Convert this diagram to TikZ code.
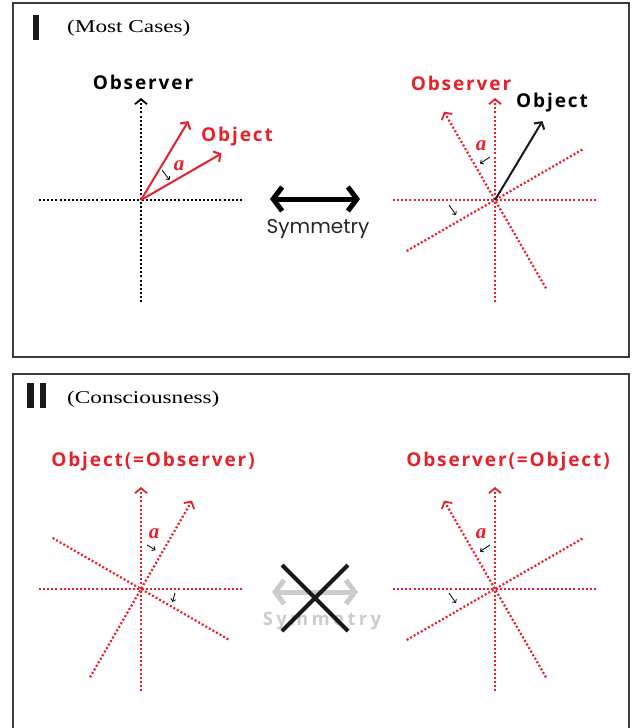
\documentclass[tikz,border=0pt]{standalone}
\usepackage{fontspec}
\setmainfont{Liberation Serif}
\newfontfamily\labelfont[LetterSpace=10]{Open Sans}
\newfontfamily\widelabelfont[LetterSpace=18]{Open Sans}
\newfontfamily\symfont{Poppins}
\usetikzlibrary{arrows.meta}
\definecolor{axisred}{RGB}{232,32,42}
\definecolor{framegray}{RGB}{60,60,60}
\definecolor{fadegray}{RGB}{204,204,204}

\begin{document}
\begin{tikzpicture}[x=1pt,y=1pt]
	\tikzstyle{frame}=[draw=framegray,line width=1.2pt]
	\tikzstyle{axis}=[line width=2.2pt,dash pattern=on 2pt off 2.1pt]
	\tikzstyle{axistip}=[-{Straight Barb[length=5pt,width=12pt,line width=1.8pt]}]
	\tikzstyle{vec}=[line width=2pt,-{Straight Barb[length=5pt,width=12pt]}]
	\tikzstyle{tick}=[line width=0.8pt,-{Straight Barb[length=2.5pt,width=5pt]}]
	\tikzstyle{sym}=[line width=5pt,{Straight Barb[length=9pt,width=24pt]}-{Straight Barb[length=9pt,width=24pt]}]
	\tikzstyle{big}=[font=\labelfont\bfseries\fontsize{19}{19}\selectfont,inner sep=0pt]
	\tikzstyle{angle}=[font=\bfseries\itshape\fontsize{21}{21}\selectfont,text=axisred,inner sep=0pt]
	\tikzstyle{head}=[font=\fontsize{18}{18}\selectfont,anchor=west,inner sep=0pt]

	\useasboundingbox (0,0) rectangle (636,-728);

	% panel frames and headings
	\draw[frame] (13,-3) rectangle (629,-357);
	\draw[frame] (13,-728) -- (13,-374) -- (629,-374) -- (629,-728);
	\fill[black!90] (33,-15) rectangle (38.5,-40);
	\fill[black!90] (27,-383) rectangle (33.5,-408);
	\fill[black!90] (39.5,-383) rectangle (46,-408);
	\node[head] (caseI) at (67,-28) {\scalebox{1.29}[1]{(Most Cases)}};
	\node[head] (caseII) at (67,-399) {\scalebox{1.29}[1]{(Consciousness)}};

	% I, left: observer frame
	\coordinate (A) at (141,-200);
	\coordinate (A-w) at (39,-200);
	\coordinate (A-e) at (243,-200);
	\coordinate (A-s) at (141,-302);
	\coordinate (A-n) at (141,-98);
	\coordinate (A-obj1) at ([shift={(30:93)}]A);
	\coordinate (A-obj2) at ([shift={(59:92)}]A);
	\draw[axis] (A-w) -- (A-e);
	\draw[axis,axistip] (A-s) -- (A-n);
	\draw[vec,axisred] (A) -- (A-obj1);
	\draw[vec,axisred] (A) -- (A-obj2);
	\coordinate (tA1) at (162,-170);
	\coordinate (tA2) at (169.5,-180);
	\draw[tick] (tA1) -- (tA2);
	\node[big] (obsA) at (143,-82) {Observer};
	\node[big,text=axisred] (objA) at (237,-137) {Object};
	\node[angle] (aA) at (179,-166) {a};

	% I, middle
	\coordinate (symL) at (270,-199);
	\coordinate (symR) at (360,-199);
	\draw[sym] (symL) -- (symR);
	\node[font=\symfont\fontsize{20}{20}\selectfont,text=black!85] (symI) at (318,-229) {Symmetry};

	% I, right: rotated frame
	\coordinate (B) at (495,-200);
	\coordinate (B-w) at (393,-200);
	\coordinate (B-e) at (597,-200);
	\coordinate (B-s) at (495,-302);
	\coordinate (B-n) at (495,-98);
	\coordinate (B-nw) at ([shift={(120:102)}]B);
	\coordinate (B-se) at ([shift={(-60:102)}]B);
	\coordinate (B-ne) at ([shift={(30:102)}]B);
	\coordinate (B-sw) at ([shift={(210:102)}]B);
	\coordinate (B-obj) at ([shift={(59:92)}]B);
	\draw[axis,axisred] (B-w) -- (B-e);
	\draw[axis,axisred] (B-sw) -- (B-ne);
	\draw[axis,axisred,axistip] (B-s) -- (B-n);
	\draw[axis,axisred,axistip] (B-se) -- (B-nw);
	\draw[vec,black!90] (B) -- (B-obj);
	\coordinate (tB1) at (490,-157);
	\coordinate (tB2) at (480,-163.5);
	\coordinate (tB3) at (449,-205);
	\coordinate (tB4) at (456,-215);
	\draw[tick] (tB1) -- (tB2);
	\draw[tick] (tB3) -- (tB4);
	\node[big,text=axisred] (obsB) at (461,-83) {Observer};
	\node[big] (objB) at (552,-103) {Object};
	\node[angle] (aB) at (481,-146) {a};

	% II, left
	\coordinate (C) at (141,-589);
	\coordinate (C-w) at (39,-589);
	\coordinate (C-e) at (243,-589);
	\coordinate (C-s) at (141,-691);
	\coordinate (C-n) at (141,-487);
	\coordinate (C-ne) at ([shift={(60:102)}]C);
	\coordinate (C-sw) at ([shift={(240:102)}]C);
	\coordinate (C-nw) at ([shift={(150:102)}]C);
	\coordinate (C-se) at ([shift={(-30:102)}]C);
	\draw[axis,axisred] (C-w) -- (C-e);
	\draw[axis,axisred] (C-nw) -- (C-se);
	\draw[axis,axisred,axistip] (C-s) -- (C-n);
	\draw[axis,axisred,axistip] (C-sw) -- (C-ne);
	\coordinate (tC1) at (147,-545);
	\coordinate (tC2) at (155.5,-550);
	\coordinate (tC3) at (175,-593);
	\coordinate (tC4) at (172.5,-602);
	\draw[tick] (tC1) -- (tC2);
	\draw[tick] (tC3) -- (tC4);
	\node[big,text=axisred] (objC) at (153,-462) {Object(=Observer)};
	\node[angle] (aC) at (154,-534) {a};

	% II, middle
	\coordinate (nsymL) at (272,-592);
	\coordinate (nsymR) at (358,-592);
	\draw[sym,fadegray] (nsymL) -- (nsymR);
	\node[font=\widelabelfont\bfseries\fontsize{18.5}{18.5}\selectfont,text=fadegray] (symII) at (322,-621) {Symmetry};
	\coordinate (x1) at (282,-565);
	\coordinate (x2) at (348,-631);
	\coordinate (x3) at (348,-565);
	\coordinate (x4) at (282,-631);
	\draw[line width=4pt,black!90] (x1) -- (x2);
	\draw[line width=4pt,black!90] (x3) -- (x4);

	% II, right
	\coordinate (D) at (495,-589);
	\coordinate (D-w) at (393,-589);
	\coordinate (D-e) at (597,-589);
	\coordinate (D-s) at (495,-691);
	\coordinate (D-n) at (495,-487);
	\coordinate (D-nw) at ([shift={(120:102)}]D);
	\coordinate (D-se) at ([shift={(-60:102)}]D);
	\coordinate (D-ne) at ([shift={(30:102)}]D);
	\coordinate (D-sw) at ([shift={(210:102)}]D);
	\draw[axis,axisred] (D-w) -- (D-e);
	\draw[axis,axisred] (D-sw) -- (D-ne);
	\draw[axis,axisred,axistip] (D-s) -- (D-n);
	\draw[axis,axisred,axistip] (D-se) -- (D-nw);
	\coordinate (tD1) at (490,-545);
	\coordinate (tD2) at (480,-551.5);
	\coordinate (tD3) at (449,-593);
	\coordinate (tD4) at (456,-603);
	\draw[tick] (tD1) -- (tD2);
	\draw[tick] (tD3) -- (tD4);
	\node[big,text=axisred] (obsD) at (508,-462) {Observer(=Object)};
	\node[angle] (aD) at (481,-534) {a};
\end{tikzpicture}
\end{document}
